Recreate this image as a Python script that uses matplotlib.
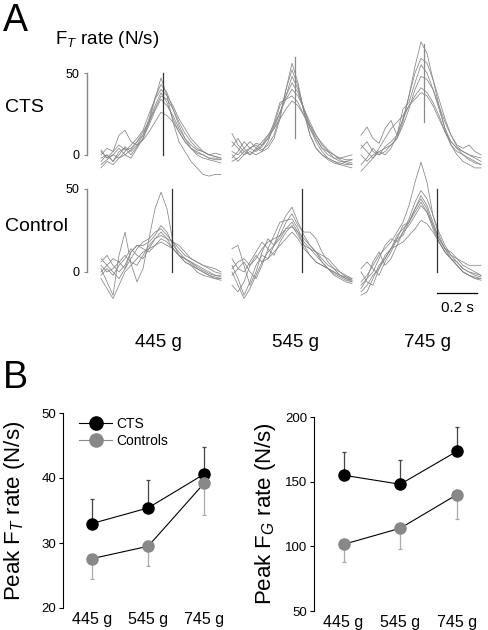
import numpy as np
import matplotlib
matplotlib.use('Agg')
import matplotlib.pyplot as plt
from matplotlib.lines import Line2D

plt.rcParams['font.family'] = ['Liberation Sans', 'DejaVu Sans']
plt.rcParams['mathtext.fontset'] = 'custom'
plt.rcParams['mathtext.rm'] = 'Liberation Sans'
plt.rcParams['mathtext.it'] = 'Liberation Sans:italic'

W, H = 488, 630

## time base of the traces (s)
t = np.arange(21) * 0.03

## force-rate traces (N/s), one list per trial
cts_445 = [
    [-2, 0, -4, 2, 4, 0, 5, 10, 20, 34, 47, 36, 20, 8, 2, -4, -8, -12, -13, -12, -12],
    [3, -2, 2, 6, 3, 4, 8, 12, 22, 35, 43, 38, 28, 18, 10, 4, 0, -2, -3, -4, -5],
    [-6, -3, 0, -2, 2, 6, 10, 15, 25, 34, 40, 36, 30, 22, 16, 10, 6, 2, 0, -1, -2],
    [0, 4, 2, 12, 15, 8, 6, 12, 20, 30, 38, 32, 22, 14, 8, 4, 1, 0, -2, -3, -3],
    [-8, -4, -6, -2, 0, 3, 8, 14, 20, 28, 36, 34, 28, 20, 13, 8, 4, 2, 0, -1, -2],
    [2, -2, 0, 4, 0, -2, 4, 10, 18, 27, 34, 30, 24, 16, 10, 6, 3, 2, 0, 1, 0],
    [-4, 0, -4, 0, 5, 2, 6, 9, 14, 20, 26, 24, 20, 14, 8, 4, 2, 0, -2, -2, -3],
]
cts_545 = [
    [8, 4, 0, 2, 0, 2, 4, 10, 22, 40, 56, 44, 26, 12, 4, 0, -3, -5, -6, -4, -3],
    [13, 6, 2, 4, 6, 3, 6, 12, 24, 40, 52, 42, 26, 12, 4, 0, -2, -4, -6, -7, -8],
    [2, 0, 4, 8, 4, 2, 8, 18, 30, 36, 48, 40, 28, 16, 8, 2, -2, -4, -5, -6, -6],
    [-2, 2, 8, 4, 2, 5, 10, 16, 26, 36, 44, 38, 28, 18, 10, 4, 0, -2, -2, -1, 0],
    [5, 10, 4, 0, 3, 6, 12, 18, 26, 34, 40, 36, 28, 20, 12, 6, 2, 0, -2, -3, -3],
    [0, -4, 0, 4, 7, 6, 10, 20, 32, 34, 36, 32, 24, 16, 10, 4, 2, -2, -4, -4, -5],
    [-4, -2, 2, 0, 4, 8, 12, 16, 22, 28, 33, 30, 24, 18, 12, 7, 3, 0, -3, -5, -6],
]
cts_745 = [
    [0, -4, 0, 2, 4, 6, 10, 20, 36, 54, 69, 62, 46, 30, 16, 6, 0, -4, -6, -8, -8],
    [4, 8, 2, 0, 5, 8, 12, 22, 36, 50, 59, 56, 46, 34, 22, 12, 5, 2, 0, -2, -4],
    [12, 17, 10, 7, 16, 21, 12, 28, 32, 44, 55, 50, 40, 28, 16, 8, 4, 2, 0, -1, -2],
    [-6, -2, 4, 0, 2, 6, 10, 18, 28, 40, 48, 46, 40, 30, 20, 12, 6, 4, 6, 2, 0],
    [-10, -6, -2, 2, 0, 4, 12, 22, 30, 36, 41, 38, 32, 24, 14, 6, 2, 0, -2, -4, -6],
    [6, 2, -2, 4, 10, 16, 20, 24, 30, 34, 38, 36, 30, 22, 14, 8, 4, 0, -3, -5, -6],
]
ctl_445 = [
    [2, -6, -14, 10, 24, 5, -6, 2, 20, 38, 48, 38, 18, 10, 8, 5, 2, 0, -2, -3, -4],
    [-4, -10, -16, -8, 0, 4, 8, 12, 14, 16, 20, 18, 14, 10, 6, 4, 2, 0, -2, -4, -5],
    [6, 10, 4, 0, 4, 12, 16, 16, 18, 22, 28, 24, 16, 12, 8, 6, 4, 2, 0, -2, -2],
    [0, 4, 8, 6, 2, 8, 14, 18, 20, 24, 26, 22, 18, 14, 10, 8, 6, 4, 3, 2, 0],
    [-2, 2, -2, 4, 8, 14, 10, 8, 14, 20, 24, 20, 14, 10, 6, 4, 0, -2, -3, -4, -4],
    [4, 0, 2, 6, 10, 6, 4, 10, 16, 20, 22, 20, 18, 16, 12, 8, 6, 4, 2, 0, -1],
    [8, 4, 0, -4, 2, 12, 16, 14, 12, 16, 18, 16, 14, 10, 8, 6, 3, 1, -1, -2, -3],
]
ctl_545 = [
    [4, -4, -14, -6, 4, 10, 8, 16, 26, 34, 39, 30, 22, 16, 12, 8, 4, 2, 0, -2, -4],
    [14, 16, 4, -8, 0, 12, 20, 16, 22, 30, 35, 28, 24, 24, 20, 12, 6, 2, -2, -4, -5],
    [-2, 2, 6, 0, -4, 4, 14, 22, 30, 31, 32, 26, 18, 14, 12, 10, 8, 4, 0, -3, -5],
    [0, -8, -16, -10, -2, 6, 12, 16, 20, 26, 30, 24, 16, 10, 6, 4, 2, 0, -2, -4, -6],
    [8, 2, 0, 6, 12, 18, 14, 10, 18, 24, 28, 22, 16, 14, 10, 6, 2, -1, -3, -5, -6],
    [-8, -12, -6, 4, 10, 6, 8, 12, 16, 20, 24, 20, 14, 10, 6, 4, 2, -2, -4, -6, -7],
    [2, 6, 8, 4, 8, 14, 18, 20, 22, 26, 27, 24, 20, 16, 12, 6, 2, 0, -2, -3, -4],
]
ctl_745 = [
    [-6, -2, 4, 10, 14, 18, 24, 30, 40, 54, 66, 54, 34, 22, 14, 8, 4, 0, -2, -4, -4],
    [-10, -4, 0, 8, 16, 20, 18, 24, 32, 42, 49, 44, 34, 24, 16, 10, 6, 2, 0, -2, -3],
    [0, -6, -8, 2, 10, 14, 22, 26, 30, 38, 46, 40, 30, 20, 14, 10, 8, 6, 4, 4, 4],
    [-14, -12, -4, 4, 8, 14, 20, 22, 30, 38, 44, 38, 28, 18, 12, 8, 4, 0, -2, -3, -4],
    [2, 6, 2, -2, 6, 12, 20, 28, 30, 36, 42, 36, 26, 18, 12, 8, 6, 2, 0, -1, -2],
    [-8, -4, 6, 12, 4, 8, 16, 24, 28, 34, 40, 36, 28, 20, 14, 12, 8, 4, 2, 0, -2],
    [-12, -8, -2, 2, 8, 14, 16, 18, 22, 26, 31, 29, 24, 18, 12, 8, 4, 0, -2, -4, -5],
]
## time and extent of the marker line in each panel (s, N/s)
cts_mark = [(0.31, 0, 50), (0.315, 10, 60), (0.315, 20, 68)]
ctl_mark = [(0.355, 0, 50), (0.35, 0, 50), (0.38, 0, 50)]

loads = ['445 g', '545 g', '745 g']
## group means and SD (panel B)
ft_cts = [33.0, 35.4, 40.6]
ft_cts_sd = [3.8, 4.3, 4.2]
ft_ctl = [27.6, 29.5, 39.2]
ft_ctl_sd = [3.2, 3.1, 4.9]
fg_cts = [155, 148, 173.5]
fg_cts_sd = [18, 19, 18.5]
fg_ctl = [101.5, 114, 140]
fg_ctl_sd = [13.5, 16, 19]


def px_axes(fig, x0, y0, x1, y1):
    # pixel box (top-left origin) -> figure axes
    return fig.add_axes([x0 / W, 1 - y1 / H, (x1 - x0) / W, (y1 - y0) / H])


fig = plt.figure(figsize=(W / 100, H / 100), dpi=100)

fig.text(3 / W, 1 - 3 / H, 'A', fontsize=27, va='top', ha='left')
fig.text(55 / W, 1 - 40 / H, r'F$_{\mathit{T}}$ rate (N/s)', fontsize=13.5, va='center')
fig.text(5 / W, 1 - 108 / H, 'CTS', fontsize=14, va='center')
fig.text(5 / W, 1 - 226 / H, 'Control', fontsize=14, va='center')

col_x0 = [87, 218, 347]
rows = [(cts_445, cts_545, cts_745), (ctl_445, ctl_545, ctl_745)]
marks = [cts_mark, ctl_mark]
row_box = [(37, 181, (-16, 72)), (159, 308.5, (-22, 68))]

for r in range(2):
    y0, y1, ylim = row_box[r]
    for c in range(3):
        ax = px_axes(fig, col_x0[c], y0, col_x0[c] + 138, y1)
        ax.patch.set_alpha(0)
        for tr in rows[r][c]:
            ax.plot(t, tr, color='#858585', lw=0.55, clip_on=False)
        mt, m0, m1 = marks[r][c]
        ax.plot([mt, mt], [m0, m1], color='#333333' if r == 1 or c == 0 else '#8a8a8a', lw=0.9)
        ax.set_xlim(-0.07, 0.62)
        ax.set_ylim(*ylim)
        for s in ['top', 'right', 'bottom']:
            ax.spines[s].set_visible(False)
        ax.set_xticks([])
        if c == 0:
            ax.spines['left'].set_bounds(0, 50)
            ax.spines['left'].set_color('#888888')
            ax.spines['left'].set_linewidth(1.0)
            ax.set_yticks([0, 50])
            ax.tick_params(axis='y', length=2.5, width=0.8, color='#888888', labelsize=9, pad=3)
        else:
            ax.spines['left'].set_visible(False)
            ax.set_yticks([])
        if r == 1 and c == 2:
            # 0.2 s scale bar
            ax.plot([0.38, 0.58], [-12.7, -12.7], color='k', lw=0.9, clip_on=False)
            ax.text(0.48, -17.5, '0.2 s', ha='center', va='top', fontsize=11)

for x, lab in zip([158, 296, 428], loads):
    fig.text(x / W, 1 - 343 / H, lab, fontsize=13.5, ha='center', va='center')

fig.text(3 / W, 1 - 360 / H, 'B', fontsize=27, va='top', ha='left')

x = np.arange(3)
panels = [
    (63, 413, 221, 608, (20, 50), [20, 30, 40, 50], ft_cts, ft_cts_sd, ft_ctl, ft_ctl_sd, 'T'),
    (314, 417, 474, 611, (50, 200), [50, 100, 150, 200], fg_cts, fg_cts_sd, fg_ctl, fg_ctl_sd, 'G'),
]
for i, (a0, b0, a1, b1, ylim, yt, cm, cs, gm, gs, sub) in enumerate(panels):
    ax = px_axes(fig, a0, b0, a1, b1)
    ax.patch.set_alpha(0)
    ax.errorbar(x, cm, yerr=[np.zeros(3), cs], fmt='none', ecolor='#444444', elinewidth=0.9,
                capsize=1.5, capthick=0.9, zorder=1)
    ax.errorbar(x, gm, yerr=[gs, np.zeros(3)], fmt='none', ecolor='#aaaaaa', elinewidth=0.9,
                capsize=1.5, capthick=0.9, zorder=1)
    ax.plot(x, cm, '-', color='k', lw=0.8, zorder=2)
    ax.plot(x, gm, '-', color='k', lw=0.8, zorder=2)
    ax.plot(x, cm, 'o', color='k', ms=8, zorder=3)
    ax.plot(x, gm, 'o', color='#888888', ms=8, zorder=3)
    ax.set_xlim(-0.52, 2.3)
    ax.set_ylim(*ylim)
    ax.set_yticks(yt)
    ax.set_xticks(x)
    ax.set_xticklabels(loads)
    for s in ['top', 'right', 'bottom']:
        ax.spines[s].set_visible(False)
    ax.spines['left'].set_linewidth(0.8)
    ax.tick_params(axis='x', length=0, labelsize=11.5, pad=3)
    ax.tick_params(axis='y', length=3, width=0.8, labelsize=9.5, pad=2)
    ax.set_ylabel(r'Peak F$_{\mathit{%s}}$ rate (N/s)' % sub, fontsize=16)
    ax.yaxis.set_label_coords(-36 / (a1 - a0), 0.5)
    if i == 0:
        h = [Line2D([], [], color='k', lw=0.8, marker='o', ms=9.5),
             Line2D([], [], color='#888888', lw=0.8, marker='o', ms=9.5)]
        ax.legend(h, ['CTS', 'Controls'], loc='upper left', bbox_to_anchor=(0.04, 1.03),
                  frameon=False, fontsize=10, handlelength=2.4, handletextpad=0.3,
                  labelspacing=0.25, borderaxespad=0.3)

fig.savefig('out.png', dpi=100)
